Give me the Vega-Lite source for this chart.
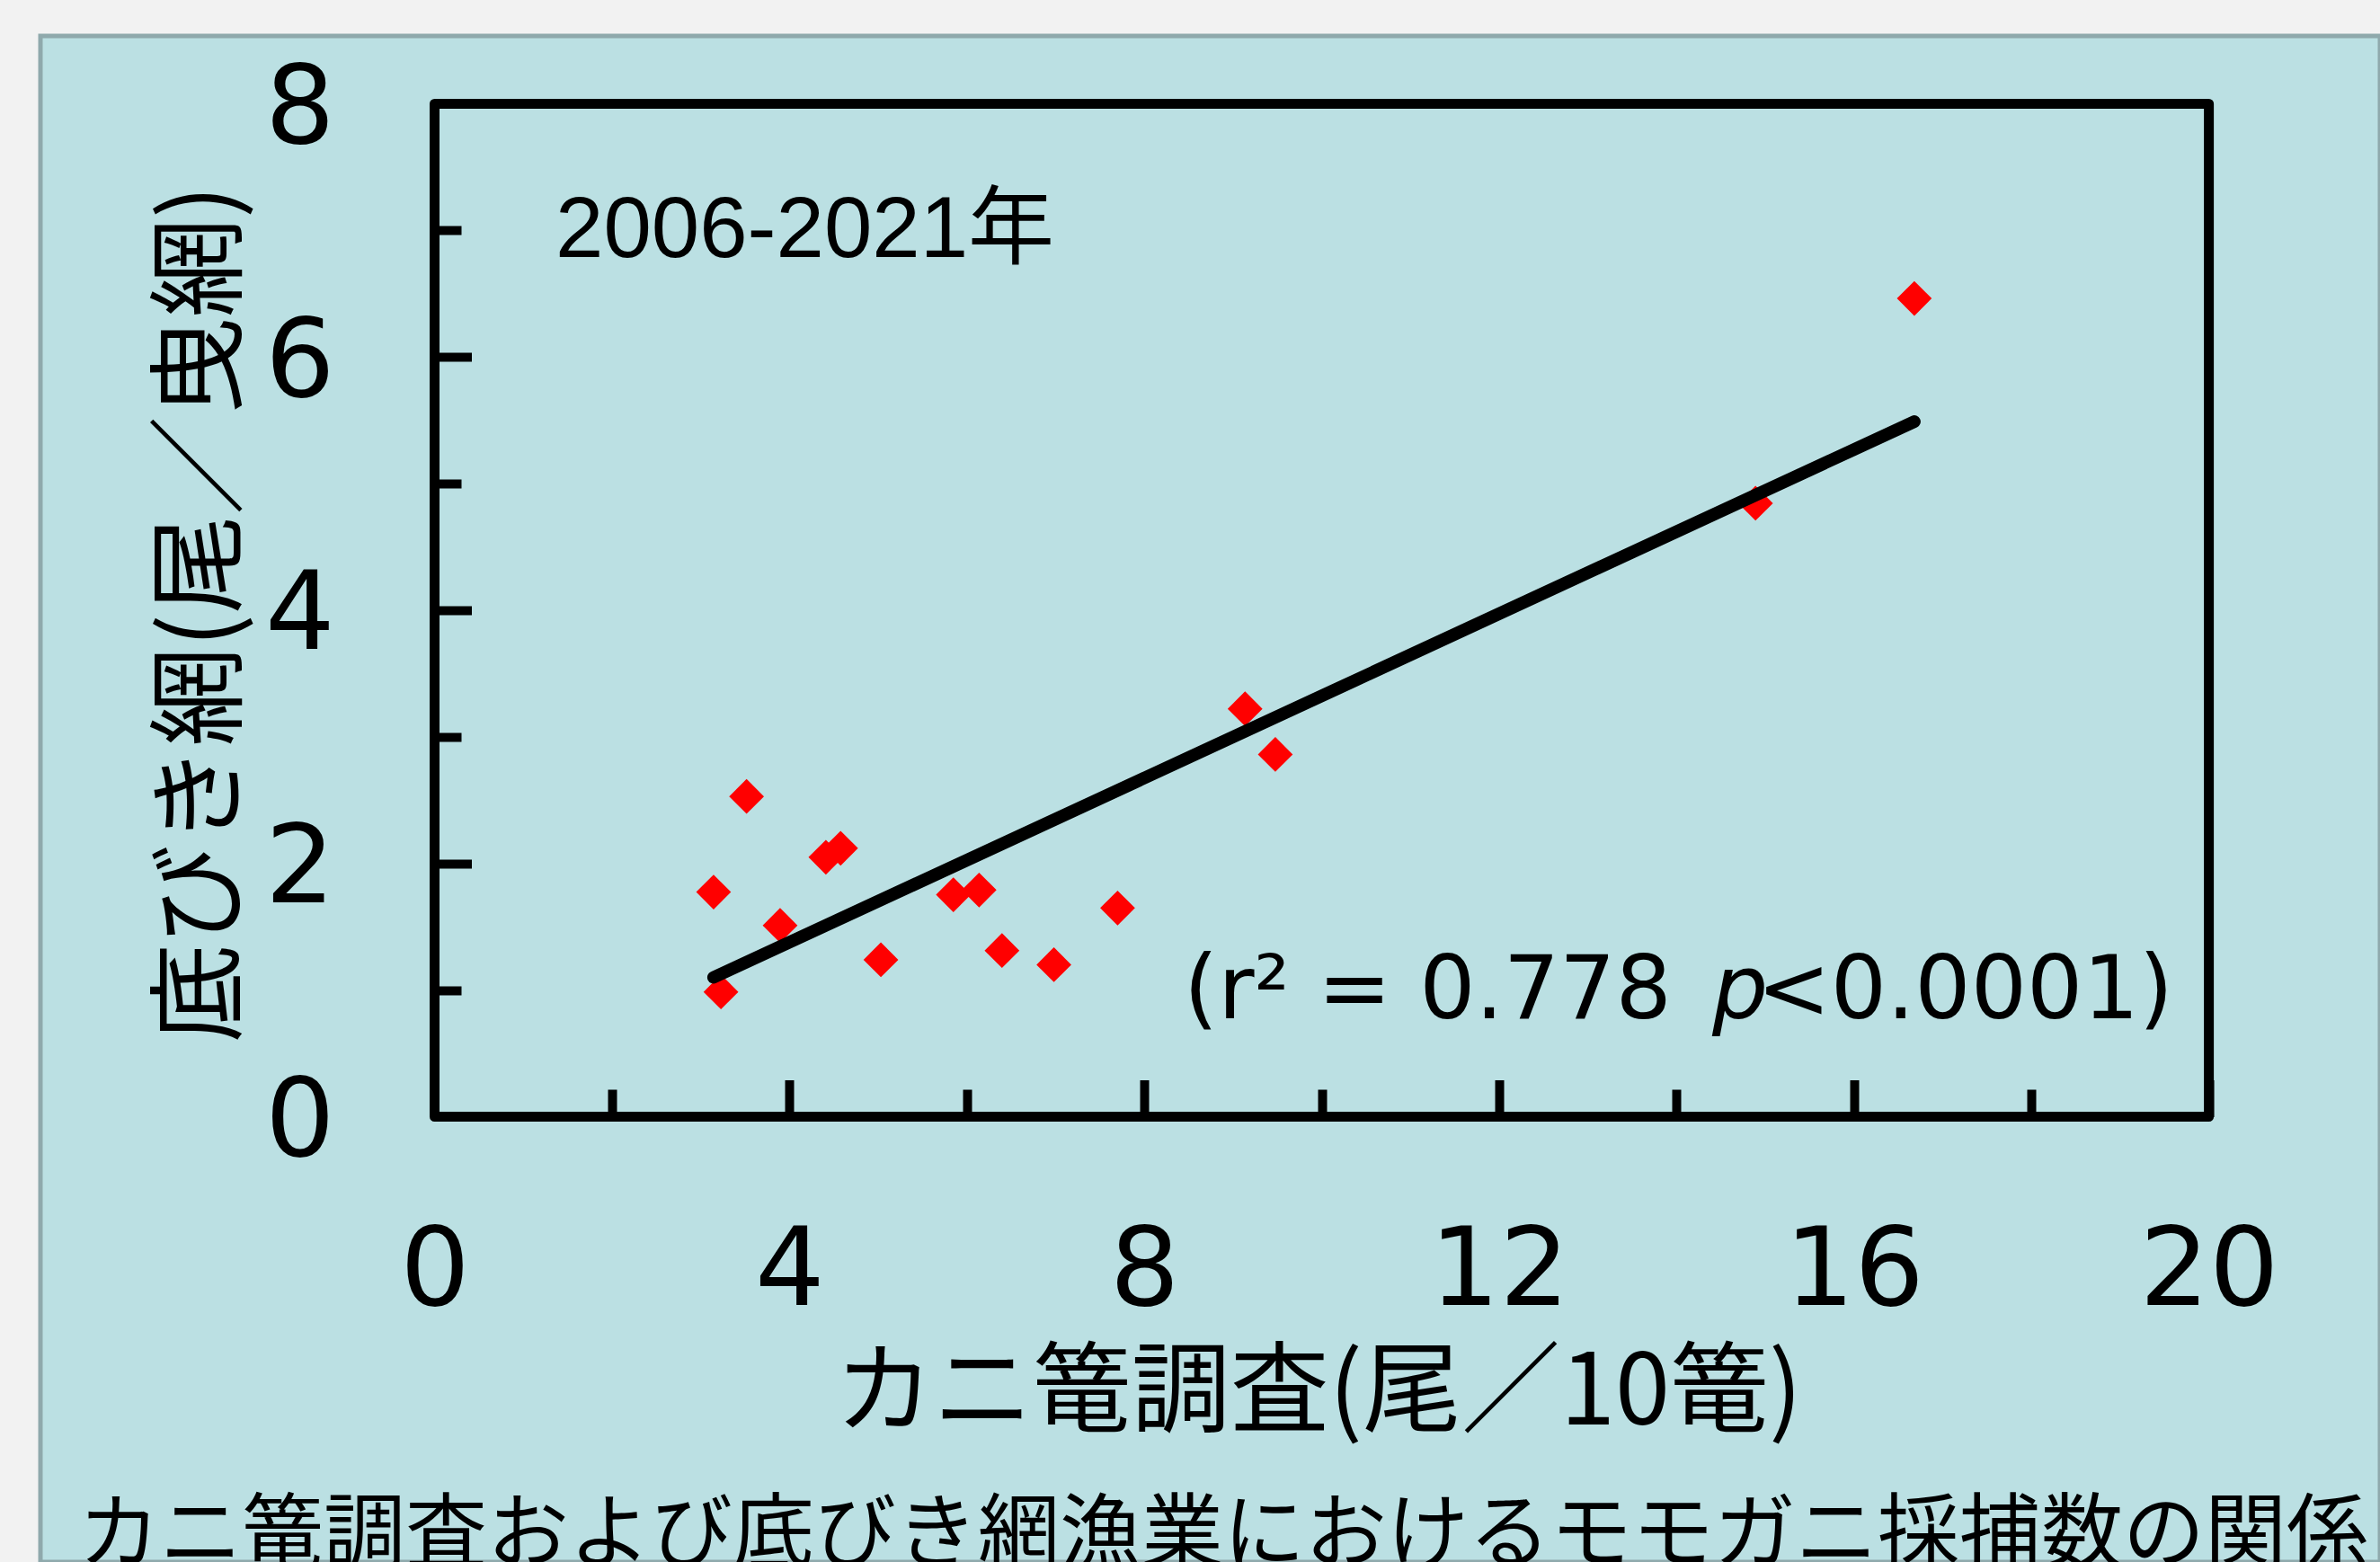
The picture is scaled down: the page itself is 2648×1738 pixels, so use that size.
{
  "$schema": "https://vega.github.io/schema/vega-lite/v6.json",
  "width": 2603,
  "height": 1698,
  "autosize": {"type": "none"},
  "padding": {"left": 45, "top": 40, "right": 0, "bottom": 0},
  "background": "#F2F2F2",
  "config": {
    "view": {"fill": "#BBE0E3", "stroke": "#8FA9AC", "strokeWidth": 5},
    "axis": {"grid": false, "domain": false, "tickColor": "black", "labelColor": "black", "titleColor": "black", "labelFlush": false, "labelOverlap": false, "labelBound": false}
  },
  "datasets": {
    "catch": [
      {"cage": 3.517, "trawl": 2.529},
      {"cage": 3.145, "trawl": 1.774},
      {"cage": 3.895, "trawl": 1.511},
      {"cage": 3.228, "trawl": 0.985},
      {"cage": 4.411, "trawl": 2.049},
      {"cage": 4.577, "trawl": 2.120},
      {"cage": 5.031, "trawl": 1.239},
      {"cage": 5.848, "trawl": 1.753},
      {"cage": 6.138, "trawl": 1.790},
      {"cage": 6.396, "trawl": 1.312},
      {"cage": 6.981, "trawl": 1.200},
      {"cage": 7.699, "trawl": 1.648},
      {"cage": 9.136, "trawl": 3.221},
      {"cage": 9.477, "trawl": 2.861},
      {"cage": 14.89, "trawl": 4.845},
      {"cage": 16.68, "trawl": 6.463}
    ]
  },
  "layer": [
    {
      "data": {"values": [{}]},
      "mark": {"type": "rect", "fill": "transparent", "stroke": "black", "strokeWidth": 11, "strokeJoin": "round"},
      "encoding": {
        "x": {
          "datum": 0, "type": "quantitative",
          "scale": {"domain": [-4.4425, 21.929], "nice": false, "zero": false},
          "axis": {
            "orient": "bottom", "offset": -495.5, "values": [0, 4, 8, 12, 16, 20],
            "tickSize": -41, "tickWidth": 10, "labelPadding": 250, "labelBaseline": "alphabetic", "labelAlign": "center",
            "labelFont": "DejaVu Sans", "labelFontSize": 122,
            "title": "カニ篭調査(尾／10篭)", "titleFont": "Noto Sans CJK JP", "titleFontSize": 110, "titleFontWeight": "normal",
            "titleX": 1421.5, "titleY": 341.5, "titleAlign": "center", "titleBaseline": "alphabetic", "titleAngle": 0
          }
        },
        "x2": {"datum": 20},
        "y": {
          "datum": 0, "type": "quantitative",
          "scale": {"domain": [-3.5174, 8.5359], "nice": false, "zero": false},
          "axis": {
            "orient": "left", "offset": -438.5, "values": [0, 2, 4, 6, 8],
            "tickSize": -41, "tickWidth": 10, "labelPadding": 152.5, "labelAlign": "right", "labelBaseline": "alphabetic", "labelOffset": 43,
            "labelFont": "DejaVu Sans", "labelFontSize": 122,
            "title": "底びき網(尾／曳網)", "titleFont": "Noto Sans CJK JP", "titleFontSize": 110, "titleFontWeight": "normal",
            "titleX": -224.2, "titleY": 642.5, "titleAlign": "center", "titleBaseline": "alphabetic", "titleAngle": 270
          }
        },
        "y2": {"datum": 8}
      }
    },
    {
      "data": {"name": "catch"},
      "mark": {"type": "point", "shape": "diamond", "filled": true, "size": 1500, "color": "#FF0000", "opacity": 1, "strokeWidth": 0},
      "encoding": {
        "x": {
          "field": "cage", "type": "quantitative",
          "scale": {"domain": [-4.4425, 21.929], "nice": false, "zero": false},
          "axis": {"orient": "bottom", "offset": -495.5, "values": [2, 6, 10, 14, 18], "tickSize": -30.5, "tickWidth": 10, "labels": false, "title": null}
        },
        "y": {
          "field": "trawl", "type": "quantitative",
          "scale": {"domain": [-3.5174, 8.5359], "nice": false, "zero": false},
          "axis": {"orient": "left", "offset": -438.5, "values": [1, 3, 5, 7], "tickSize": -29.5, "tickWidth": 10, "labels": false, "title": null}
        }
      }
    },
    {
      "data": {"name": "catch"},
      "transform": [{"regression": "trawl", "on": "cage"}],
      "mark": {"type": "line", "color": "black", "strokeWidth": 14, "strokeCap": "round"},
      "encoding": {
        "x": {"field": "cage", "type": "quantitative", "axis": null},
        "y": {"field": "trawl", "type": "quantitative", "axis": null}
      }
    },
    {
      "data": {"values": [{}]},
      "mark": {"type": "text", "text": "2006-2021年", "font": "Liberation Sans, Noto Sans CJK JP", "fontSize": 96, "align": "left", "baseline": "alphabetic", "color": "black"},
      "encoding": {
        "x": {"datum": 1.3627, "type": "quantitative", "axis": null},
        "y": {"datum": 6.79, "type": "quantitative", "axis": null}
      }
    },
    {
      "data": {"values": [{}]},
      "mark": {"type": "text", "text": "(r² = 0.778", "font": "DejaVu Sans", "fontSize": 98, "align": "left", "baseline": "alphabetic", "color": "black"},
      "encoding": {
        "x": {"datum": 8.444, "type": "quantitative", "axis": null},
        "y": {"datum": 0.7794, "type": "quantitative", "axis": null}
      }
    },
    {
      "data": {"values": [{}]},
      "mark": {"type": "text", "text": "p", "font": "DejaVu Sans", "fontStyle": "italic", "fontSize": 98, "align": "left", "baseline": "alphabetic", "color": "black"},
      "encoding": {
        "x": {"datum": 14.402, "type": "quantitative", "axis": null},
        "y": {"datum": 0.7794, "type": "quantitative", "axis": null}
      }
    },
    {
      "data": {"values": [{}]},
      "mark": {"type": "text", "text": "<0.0001)", "font": "DejaVu Sans", "fontSize": 98, "align": "right", "baseline": "alphabetic", "color": "black"},
      "encoding": {
        "x": {"datum": 19.599, "type": "quantitative", "axis": null},
        "y": {"datum": 0.7794, "type": "quantitative", "axis": null}
      }
    },
    {
      "data": {"values": [{}]},
      "mark": {"type": "text", "text": "カニ篭調査および底びき網漁業におけるモモガニ採捕数の関係", "font": "Noto Sans CJK JP", "fontSize": 91, "align": "center", "baseline": "alphabetic", "color": "black"},
      "encoding": {
        "x": {"datum": 8.89, "type": "quantitative", "axis": null},
        "y": {"datum": -3.5137, "type": "quantitative", "axis": null}
      }
    }
  ],
  "resolve": {"axis": {"x": "independent", "y": "independent"}}
}
